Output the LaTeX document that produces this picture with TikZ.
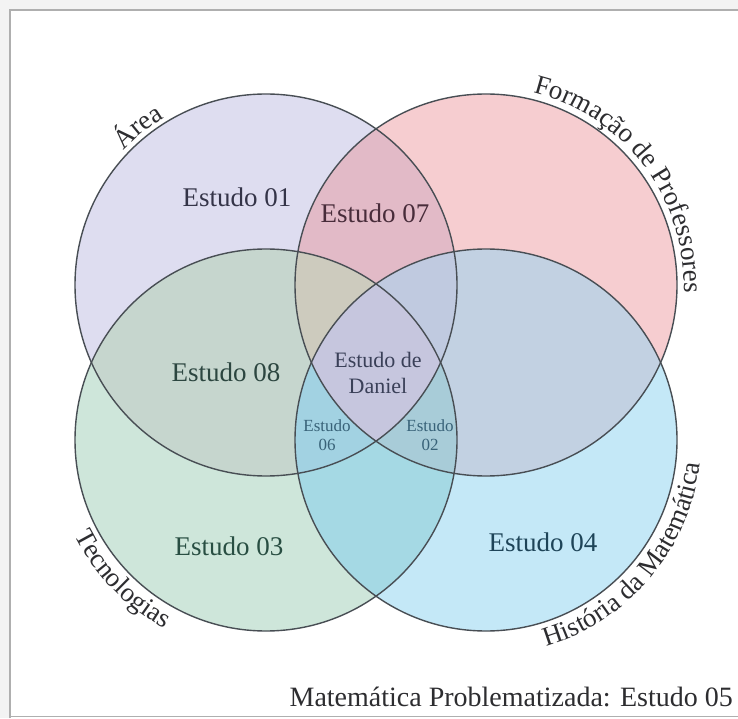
\documentclass[tikz,border=0pt]{standalone}
\usepackage{fontspec}
\setmainfont{Liberation Serif}
\usetikzlibrary{decorations.text}
\definecolor{outerbg}{RGB}{243,243,243}
\definecolor{framecol}{RGB}{175,175,175}
\definecolor{edgecol}{RGB}{72,78,84}
\definecolor{cP}{RGB}{222,221,240}
\definecolor{cK}{RGB}{246,205,208}
\definecolor{cG}{RGB}{206,230,218}
\definecolor{cB}{RGB}{196,232,247}
\definecolor{cPK}{RGB}{226,186,199}
\definecolor{cPG}{RGB}{198,214,206}
\definecolor{cKB}{RGB}{194,209,226}
\definecolor{cGB}{RGB}{165,217,228}
\definecolor{cPKG}{RGB}{205,203,190}
\definecolor{cPKB}{RGB}{192,202,224}
\definecolor{cPGB}{RGB}{162,210,226}
\definecolor{cKGB}{RGB}{168,204,216}
\definecolor{cAll}{RGB}{198,198,222}
\definecolor{arctext}{RGB}{45,45,48}
\definecolor{tP}{RGB}{52,52,72}
\definecolor{tPK}{RGB}{72,44,58}
\definecolor{tPG}{RGB}{44,70,64}
\definecolor{tG}{RGB}{40,78,66}
\definecolor{tB}{RGB}{30,68,88}
\definecolor{tAll}{RGB}{58,64,88}
\definecolor{tSmall}{RGB}{56,98,120}
\newcommand\arcfont{\fontsize{27}{30}\selectfont\color{arctext}}
\newcommand\circP{(P) circle[radius=191]}
\newcommand\circK{(K) circle[radius=191]}
\newcommand\circG{(G) circle[radius=191]}
\newcommand\circB{(B) circle[radius=191]}
\begin{document}
\begin{tikzpicture}[x=1pt,y=1pt,
  big/.style={font=\fontsize{27}{30}\selectfont},
  mid/.style={font=\fontsize{22}{26}\selectfont, align=center},
  small/.style={font=\fontsize{17}{19}\selectfont, align=center},
  edge/.style={draw=edgecol, line width=1.4pt},
  arclabel/.style={decorate, decoration={text along path, text align=center}}]
\useasboundingbox (0,0) rectangle (738,718);
\fill[outerbg] (0,0) rectangle (738,718);
\fill[white] (10,0) rectangle (738,708);
\draw[framecol, line width=1.6pt] (10,0) -- (10,708) -- (738,708);
\draw[framecol, line width=1.2pt] (10,1.5) -- (738,1.5);
\coordinate (P) at (266,433);
\coordinate (K) at (486,433);
\coordinate (G) at (266,278);
\coordinate (B) at (486,278);
% single circles
\fill[cP] \circP;
\fill[cK] \circK;
\fill[cG] \circG;
\fill[cB] \circB;
% pairs
\begin{scope}\clip \circP; \fill[cPK] \circK; \fill[cPG] \circG; \end{scope}
\begin{scope}\clip \circB; \fill[cKB] \circK; \fill[cGB] \circG; \end{scope}
% triples
\begin{scope}\clip \circP; \clip \circK; \fill[cPKG] \circG; \fill[cPKB] \circB; \end{scope}
\begin{scope}\clip \circG; \clip \circB; \fill[cPGB] \circP; \fill[cKGB] \circK; \end{scope}
% all four
\begin{scope}\clip \circP; \clip \circK; \clip \circG; \fill[cAll] \circB; \end{scope}
% outlines
\draw[edge] \circP;
\draw[edge] \circK;
\draw[edge] \circG;
\draw[edge] \circB;
% region labels
\node[big, text=tP]  (e01) at (237,521) {Estudo 01};
\node[big, text=tPK] (e07) at (375,505) {Estudo 07};
\node[big, text=tPG] (e08) at (226,346) {Estudo 08};
\node[big, text=tG]  (e03) at (229,172) {Estudo 03};
\node[big, text=tB]  (e04) at (543,176) {Estudo 04};
\node[mid, text=tAll] (dan) at (378,345) {Estudo de\\Daniel};
\node[small, text=tSmall] (e06) at (327,283) {Estudo\\06};
\node[small, text=tSmall] (e02) at (430,283) {Estudo\\02};
% circle titles along arcs
\path[arclabel, decoration={text={|\arcfont|Área}}]
  (P) ++(169:196) arc[start angle=169, end angle=89, radius=196];
\path[arclabel, decoration={text={|\arcfont|Formação de Professores}}]
  (K) ++(90:198) arc[start angle=90, end angle=-16, radius=198];
\path[arclabel, decoration={text={|\arcfont|Tecnologias}}]
  (G) ++(184:214) arc[start angle=184, end angle=264, radius=214];
\path[arclabel, decoration={text={|\arcfont|História da Matemática}}]
  (B) ++(-95:215) arc[start angle=-95, end angle=15, radius=215];
% bottom caption
\node[font=\fontsize{28}{30}\selectfont, text=arctext, anchor=base east, inner sep=0pt] (cap) at (733,12) {Matemática Problematizada: Estudo 05};
\end{tikzpicture}
\end{document}
